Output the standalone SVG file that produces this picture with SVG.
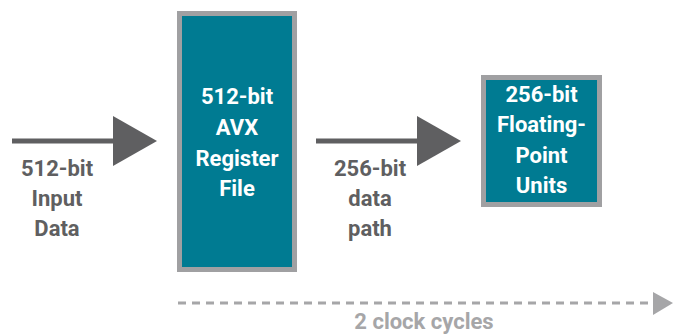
<svg xmlns="http://www.w3.org/2000/svg" width="674" height="335" viewBox="0 0 674 335">
<style>
.lbl{font-family:Roboto,"Liberation Sans",sans-serif;font-weight:bold;font-size:22px;text-anchor:middle;fill:#5f5f61}
.wt{font-family:Roboto,"Liberation Sans",sans-serif;font-weight:bold;font-size:22px;text-anchor:middle;fill:#ffffff}
.box{fill:#007b92;stroke:#a0a0a2;stroke-width:5}
.ln{stroke:#5f5f61;stroke-width:5;fill:none}
.head{fill:#5f5f61}
</style>
<rect width="674" height="335" fill="#ffffff"/>
<g id="connectors">
  <g id="input-arrow">
    <line class="ln" x1="12" y1="141" x2="116" y2="141"/>
    <polygon class="head" points="113,116 157,141 113,166"/>
  </g>
  <g id="datapath-arrow">
    <line class="ln" x1="316" y1="141" x2="420" y2="141"/>
    <polygon class="head" points="417,116 461,141 417,166"/>
  </g>
  <g id="clock-arrow">
    <line x1="178" y1="303" x2="652" y2="303" stroke="#a6a6a8" stroke-width="3" stroke-dasharray="8,6"/>
    <polygon fill="#a6a6a8" points="653,292 673,303 653,315"/>
  </g>
</g>
<g id="input-label">
  <text class="lbl" x="57" y="176">512-bit</text>
  <text class="lbl" x="57" y="206">Input</text>
  <text class="lbl" x="57" y="236">Data</text>
</g>
<g id="register-file">
  <rect class="box" x="179.5" y="13.5" width="115" height="256"/>
  <text class="wt" x="237" y="104">512-bit</text>
  <text class="wt" x="237" y="135">AVX</text>
  <text class="wt" x="237" y="166">Register</text>
  <text class="wt" x="237" y="196">File</text>
</g>
<g id="datapath-label">
  <text class="lbl" x="370" y="176">256-bit</text>
  <text class="lbl" x="370" y="206">data</text>
  <text class="lbl" x="370" y="236">path</text>
</g>
<g id="fp-units">
  <rect class="box" x="483.5" y="77.5" width="116" height="127"/>
  <text class="wt" x="541.5" y="102">256-bit</text>
  <text class="wt" x="541.5" y="132">Floating-</text>
  <text class="wt" x="541.5" y="163">Point</text>
  <text class="wt" x="541.5" y="193">Units</text>
</g>
<g id="clock-label">
  <text class="lbl" x="424" y="329" style="fill:#a6a6a8">2 clock cycles</text>
</g>
</svg>
